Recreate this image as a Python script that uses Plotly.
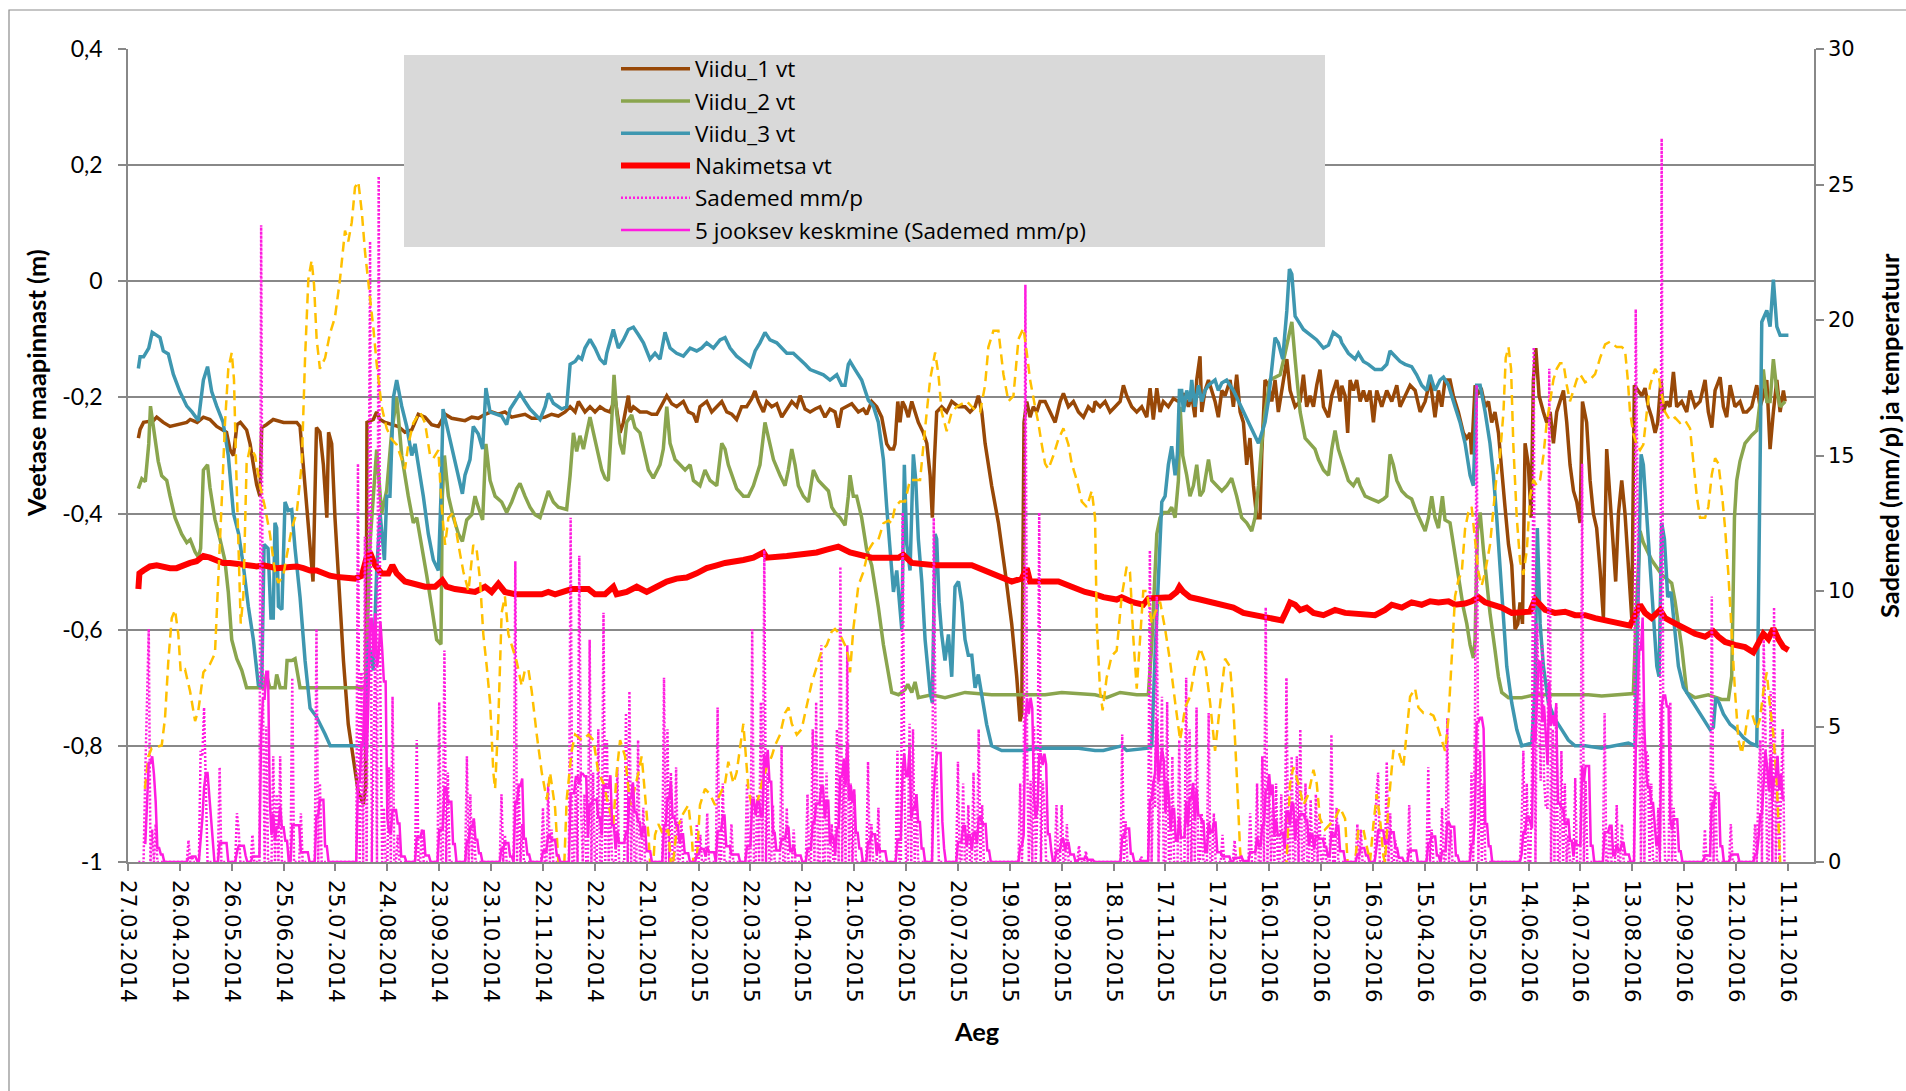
import pandas as pd
import plotly.graph_objects as go

# ---------------- data (day offsets from 27.03.2014) ----------------
START = "2014-03-27"
AXIS_END_DAYS = 975.1
TICK_STEP_DAYS = 30
N_TICKS = 33

# Viidu_1 vt (m)
V1 = [(6, -0.27), (7, -0.255), (9, -0.243), (14.7, -0.24), (16.6, -0.234), (20.4, -0.243), (24.3, -0.25), (28, -0.247),
      (34, -0.243), (36, -0.238), (40, -0.243), (43.6, -0.234), (47.4, -0.238), (51.3, -0.25), (57, -0.26), (59, -0.29),
      (61, -0.30), (63, -0.247), (65, -0.243), (68.6, -0.256), (70.6, -0.28), (72.5, -0.316), (74.4, -0.35), (76.3, -0.37),
      (77.3, -0.252), (80, -0.247), (84, -0.238), (90, -0.243), (97.6, -0.243), (99.5, -0.25), (101.4, -0.316), (103.4, -0.38),
      (105.3, -0.46), (107, -0.517), (109, -0.252), (111, -0.26), (113, -0.316), (115, -0.407), (116, -0.26), (117.8, -0.28),
      (119.7, -0.407), (122.6, -0.553), (124.6, -0.653), (127.4, -0.763), (130.3, -0.826), (133.2, -0.88), (136.1, -0.90),
      (137.5, -0.87), (138.2, -0.243), (141.9, -0.238), (143.8, -0.225), (145.8, -0.238), (148.7, -0.243), (152.5, -0.247),
      (156.4, -0.25), (160.2, -0.26), (164.1, -0.256), (167.9, -0.229), (171.8, -0.234), (175.6, -0.247), (179.5, -0.25),
      (183.4, -0.229), (187.2, -0.236), (191.1, -0.238), (194.9, -0.24), (198.8, -0.234), (202.6, -0.236), (206.5, -0.229),
      (210.3, -0.225), (214.2, -0.229), (218, -0.225), (221.9, -0.234), (225.8, -0.232), (229.6, -0.229), (233.5, -0.236),
      (237.3, -0.236), (241.2, -0.234), (245, -0.229), (248.9, -0.232), (252.8, -0.225), (255.7, -0.216), (258.6, -0.225),
      (260.5, -0.207), (264.3, -0.225), (267.2, -0.216), (270.1, -0.225), (273, -0.216), (275.9, -0.222), (278.8, -0.225),
      (281.7, -0.202), (284.6, -0.261), (286.5, -0.243), (289.4, -0.197), (290.4, -0.225), (292.3, -0.216), (296.1, -0.225),
      (300, -0.225), (302.9, -0.229), (305.8, -0.229), (309.6, -0.207), (311.6, -0.197), (314.5, -0.211), (317.3, -0.216),
      (321.2, -0.207), (324.1, -0.225), (327, -0.229), (328.9, -0.243), (330.8, -0.216), (334.7, -0.207), (337.6, -0.225),
      (340.5, -0.216), (343.4, -0.207), (346.3, -0.225), (349.2, -0.229), (352, -0.238), (354.9, -0.216), (357.8, -0.216),
      (360.7, -0.202), (362.6, -0.189), (364.6, -0.207), (367.5, -0.225), (369.4, -0.207), (372.3, -0.216), (375.2, -0.211),
      (378.1, -0.234), (381, -0.22), (383.9, -0.207), (386.8, -0.216), (388.7, -0.197), (391.6, -0.22), (394.5, -0.225),
      (397.4, -0.22), (400.2, -0.216), (403.1, -0.234), (406, -0.22), (408.9, -0.225), (410.8, -0.252), (412.8, -0.22),
      (415.7, -0.216), (418.6, -0.211), (422.4, -0.225), (425.3, -0.22), (427.2, -0.229), (430.1, -0.207), (433, -0.216),
      (435.9, -0.234), (438.8, -0.28), (440.7, -0.289), (442.7, -0.289), (443.6, -0.28), (445.2, -0.207), (446.5, -0.243),
      (447.9, -0.207), (449.4, -0.216), (451.3, -0.234), (453.3, -0.207), (455.2, -0.225), (457.1, -0.243), (460, -0.261),
      (462, -0.279), (463.9, -0.334), (465.2, -0.407), (466.4, -0.307), (467.7, -0.225), (470.6, -0.216), (473.5, -0.225),
      (476.4, -0.207), (480.3, -0.216), (484.1, -0.216), (487, -0.225), (489.9, -0.216), (491.8, -0.197), (493.8, -0.225),
      (495.7, -0.279), (499.5, -0.352), (503.4, -0.416), (507.2, -0.498), (511.1, -0.59), (514, -0.681), (515.9, -0.758),
      (516.9, -0.745), (518.2, -0.243), (519.8, -0.207), (521.7, -0.234), (523.6, -0.216), (525.6, -0.225), (527.5, -0.207),
      (530.4, -0.207), (533.3, -0.225), (536.2, -0.243), (539.1, -0.207), (541, -0.193), (543.9, -0.216), (546.8, -0.207),
      (549.7, -0.225), (552.6, -0.234), (555.4, -0.216), (558.3, -0.225), (559.3, -0.207), (562.2, -0.216), (565.1, -0.207),
      (568, -0.225), (570.9, -0.216), (573.8, -0.207), (575.7, -0.179), (577.6, -0.197), (580.5, -0.216), (583.4, -0.225),
      (586.3, -0.216), (589.2, -0.234), (591.1, -0.184), (593, -0.238), (595, -0.184), (596.9, -0.225), (598.8, -0.207),
      (601.7, -0.216), (604.6, -0.202), (607.5, -0.207), (610.4, -0.193), (613.3, -0.216), (615.2, -0.197), (617.1, -0.234),
      (618.1, -0.17), (620, -0.129), (621, -0.225), (622.9, -0.188), (624.9, -0.17), (626.8, -0.188), (628.7, -0.207),
      (630.6, -0.234), (632.6, -0.188), (634.5, -0.197), (637.4, -0.17), (639.3, -0.216), (641.2, -0.161), (643.2, -0.225),
      (645.1, -0.243), (647, -0.316), (648.9, -0.27), (650.9, -0.352), (652.8, -0.407), (654.7, -0.407), (655.7, -0.298),
      (657.6, -0.17), (659.5, -0.179), (661.5, -0.207), (663.4, -0.17), (665.3, -0.225), (667.3, -0.188), (670.2, -0.134),
      (672.1, -0.188), (675, -0.216), (677.9, -0.207), (679.8, -0.161), (681.7, -0.216), (683.6, -0.197), (685.6, -0.216),
      (687.5, -0.179), (689.4, -0.152), (691.4, -0.216), (694.3, -0.234), (696.2, -0.197), (699.1, -0.17), (701, -0.207),
      (702, -0.18), (703.9, -0.197), (705.4, -0.261), (706.8, -0.17), (708.7, -0.188), (710.6, -0.17), (712.6, -0.207),
      (714.5, -0.188), (716.4, -0.207), (718.3, -0.188), (720.3, -0.243), (722.2, -0.188), (725.1, -0.216), (728, -0.188),
      (730.9, -0.207), (733.8, -0.179), (735.7, -0.216), (738.6, -0.197), (741.5, -0.179), (744.4, -0.188), (747.3, -0.225),
      (750.2, -0.207), (753.1, -0.17), (755.9, -0.234), (757.9, -0.188), (759.8, -0.216), (761.7, -0.17), (764.6, -0.17),
      (766.5, -0.197), (769.4, -0.225), (772.3, -0.261), (774.3, -0.27), (776.2, -0.261), (777.1, -0.298), (779.1, -0.179),
      (781, -0.193), (782.9, -0.188), (784.9, -0.216), (786.8, -0.207), (788.7, -0.243), (790.6, -0.225), (792.6, -0.261),
      (794.5, -0.334), (796.4, -0.389), (798.4, -0.453), (800.3, -0.489), (802.2, -0.599), (803.8, -0.59), (805.1, -0.553),
      (806.5, -0.59), (808, -0.279), (809.9, -0.316), (811.5, -0.407), (812.8, -0.17), (814.2, -0.115), (816.1, -0.197),
      (818.6, -0.225), (820.5, -0.243), (822.5, -0.225), (824.4, -0.279), (826.3, -0.225), (828.2, -0.207), (830.2, -0.188),
      (832.1, -0.243), (834, -0.316), (836, -0.361), (837.9, -0.38), (839.8, -0.416), (841.2, -0.207), (843.6, -0.243),
      (845.6, -0.343), (847.5, -0.40), (849.4, -0.425), (851.4, -0.498), (853.3, -0.58), (855.2, -0.289), (857.1, -0.37),
      (859.1, -0.45), (860.4, -0.517), (862, -0.40), (863.9, -0.343), (865.8, -0.40), (867.7, -0.498), (869.7, -0.58),
      (871.2, -0.179), (873.5, -0.188), (875.5, -0.197), (877.4, -0.184), (879.3, -0.216), (881.2, -0.234), (883.2, -0.261),
      (884.7, -0.243), (886.6, -0.17), (888, -0.225), (889.9, -0.207), (891.8, -0.216), (893.8, -0.156), (895.7, -0.216),
      (898.6, -0.207), (901.5, -0.225), (903.4, -0.188), (906.3, -0.216), (909.2, -0.207), (912.1, -0.17), (914, -0.225),
      (916, -0.252), (917.9, -0.188), (920.8, -0.165), (922.7, -0.216), (924.6, -0.234), (926.6, -0.179), (929.4, -0.216),
      (932.3, -0.207), (934.3, -0.225), (936.2, -0.225), (939.1, -0.216), (942, -0.179), (943.9, -0.216), (945.8, -0.197),
      (947.8, -0.17), (949.7, -0.289), (951.6, -0.225), (953.6, -0.17), (955.5, -0.225), (957.4, -0.188), (958.4, -0.207)]

# Viidu_2 vt (m)
V2 = [(6, -0.357), (8, -0.34), (10, -0.345), (12, -0.28), (13, -0.215), (14.7, -0.25), (17.5, -0.31), (19.5, -0.335),
      (22.4, -0.343), (24.3, -0.37), (27.2, -0.407), (31, -0.435), (34, -0.45), (36, -0.445), (38.8, -0.466), (40.7, -0.475),
      (42, -0.46), (43.6, -0.325), (46, -0.316), (47.4, -0.355), (50.3, -0.41), (53.2, -0.444), (56, -0.48), (58, -0.535),
      (60, -0.617), (62.9, -0.65), (65.8, -0.67), (68.6, -0.70), (79, -0.70), (80, -0.677), (82, -0.70), (85, -0.70),
      (86, -0.677), (88, -0.70), (91, -0.70), (92, -0.653), (94.7, -0.653), (96.6, -0.65), (99.5, -0.70), (137.5, -0.70),
      (140, -0.45), (143.8, -0.29), (146.7, -0.40), (149.6, -0.36), (152.5, -0.26), (155.4, -0.20), (158.3, -0.30),
      (162.1, -0.37), (165, -0.416), (167, -0.407), (169.9, -0.453), (172.8, -0.507), (175.6, -0.56), (178.5, -0.617),
      (181, -0.625), (181.8, -0.37), (183, -0.30), (185.3, -0.37), (188.2, -0.407), (191.1, -0.435), (193.4, -0.448),
      (195.9, -0.411), (198.8, -0.402), (200.7, -0.37), (202.6, -0.389), (205.1, -0.411), (207, -0.28), (209.4, -0.343),
      (212.3, -0.37), (216.1, -0.38), (219, -0.398), (221.9, -0.38), (224.8, -0.357), (226.7, -0.348), (229.6, -0.37),
      (232.5, -0.389), (235.4, -0.402), (238.3, -0.407), (240.2, -0.389), (243.1, -0.361), (246, -0.38), (248.9, -0.389),
      (253.7, -0.393), (255.7, -0.334), (257.6, -0.261), (259.5, -0.293), (261.4, -0.266), (263.4, -0.289), (265.3, -0.261),
      (267.2, -0.234), (269.2, -0.261), (271.1, -0.289), (274, -0.325), (275.9, -0.339), (277.8, -0.343), (279.7, -0.243),
      (281.1, -0.161), (282.6, -0.225), (284.6, -0.279), (286.5, -0.298), (288.4, -0.243), (291.3, -0.23), (293.2, -0.252),
      (296.1, -0.261), (298.1, -0.289), (301, -0.325), (303.8, -0.339), (307.7, -0.316), (309.6, -0.289), (311.6, -0.216),
      (313.5, -0.279), (316.4, -0.307), (319.3, -0.316), (322.2, -0.325), (325.1, -0.316), (327, -0.343), (330.8, -0.352),
      (333.7, -0.325), (336.6, -0.343), (340.5, -0.352), (343.4, -0.279), (345.3, -0.289), (347.2, -0.316), (349.2, -0.334),
      (352, -0.357), (355.9, -0.37), (358.8, -0.37), (361.7, -0.352), (365.5, -0.316), (368.4, -0.243), (370.4, -0.27),
      (373.3, -0.307), (377.1, -0.334), (380, -0.352), (381.9, -0.325), (383.9, -0.289), (385.8, -0.316), (387.7, -0.352),
      (390.6, -0.37), (393.5, -0.38), (396.4, -0.325), (399.3, -0.343), (402.2, -0.352), (405.1, -0.361), (407, -0.389),
      (408.9, -0.398), (411.8, -0.407), (414.7, -0.42), (416.6, -0.37), (417.6, -0.334), (419.5, -0.37), (421.4, -0.37),
      (424.3, -0.407), (427.2, -0.462), (430.1, -0.489), (434, -0.562), (436.9, -0.626), (439.8, -0.681), (441.7, -0.708),
      (445.6, -0.712), (449.4, -0.703), (451, -0.694), (453.3, -0.708), (455.2, -0.69), (457.1, -0.717), (464.8, -0.712),
      (472.5, -0.717), (484.1, -0.708), (499.5, -0.712), (515, -0.712), (530.4, -0.712), (540, -0.708), (559.3, -0.712),
      (566, -0.717), (573.8, -0.708), (583.4, -0.712), (590.1, -0.712), (592.1, -0.626), (595, -0.435), (596.9, -0.407),
      (598.8, -0.398), (601.7, -0.398), (603.6, -0.389), (605.6, -0.407), (607.5, -0.343), (608.5, -0.216), (610, -0.30),
      (612.3, -0.334), (614.2, -0.37), (616.2, -0.352), (618.1, -0.316), (620, -0.37), (621.9, -0.361), (624.9, -0.307),
      (626.8, -0.343), (629.7, -0.352), (632.6, -0.361), (635.5, -0.352), (638.3, -0.339), (641.2, -0.37), (644.1, -0.407),
      (647, -0.416), (649.9, -0.43), (651.8, -0.407), (653.8, -0.352), (655.7, -0.279), (657.6, -0.225), (660.5, -0.17),
      (663.4, -0.165), (666.3, -0.161), (669.2, -0.124), (671.1, -0.097), (673.1, -0.07), (675, -0.134), (677.9, -0.225),
      (680.8, -0.27), (683.6, -0.279), (686.5, -0.289), (688.5, -0.307), (691.4, -0.325), (694.3, -0.334), (696.2, -0.289),
      (698.1, -0.257), (700, -0.289), (702.9, -0.316), (705.8, -0.343), (708.7, -0.352), (711.2, -0.339), (712.6, -0.352),
      (715.5, -0.37), (719.3, -0.375), (723.2, -0.38), (726.1, -0.375), (728, -0.37), (729.9, -0.298), (731.8, -0.316),
      (733.8, -0.343), (736.7, -0.361), (739.6, -0.37), (742.4, -0.375), (745.3, -0.398), (748.2, -0.416), (750.2, -0.43),
      (752.1, -0.407), (754, -0.37), (755.9, -0.407), (757.9, -0.425), (760.2, -0.37), (761.7, -0.411), (764.6, -0.416),
      (766.5, -0.453), (768.5, -0.489), (770.4, -0.526), (772.3, -0.562), (774.3, -0.59), (776.2, -0.626), (778.1, -0.649),
      (779.1, -0.617), (780.4, -0.43), (782, -0.398), (783.9, -0.462), (785.8, -0.517), (787.7, -0.571), (790.6, -0.635),
      (792.6, -0.681), (794.5, -0.708), (798.4, -0.717), (806.1, -0.717), (813.8, -0.712), (825.3, -0.712), (836.9, -0.712),
      (844.6, -0.712), (852.3, -0.714), (860, -0.712), (870.6, -0.71), (872.6, -0.55), (874.5, -0.43), (876.4, -0.45),
      (881.2, -0.48), (887, -0.505), (892.8, -0.52), (894.7, -0.55), (898.6, -0.63), (901.5, -0.708), (906.3, -0.717),
      (914, -0.712), (921.7, -0.72), (925.6, -0.72), (927.5, -0.68), (929.1, -0.407), (930.4, -0.343), (932.3, -0.31),
      (935.2, -0.279), (939.1, -0.265), (942, -0.257), (943.9, -0.207), (945.8, -0.152), (947.8, -0.207), (949.7, -0.207),
      (951.6, -0.134), (953.6, -0.188), (955.5, -0.216), (958.4, -0.207)]

# Viidu_3 vt (m)
V3 = [(6, -0.15), (7, -0.13), (9, -0.13), (12, -0.115), (14, -0.088), (16.6, -0.093), (18.5, -0.097), (20.4, -0.12),
      (23.3, -0.125), (26.2, -0.16), (30, -0.19), (34, -0.215), (37, -0.225), (40.7, -0.24), (43.6, -0.17), (46, -0.147),
      (48.4, -0.19), (51.3, -0.215), (55, -0.243), (58, -0.30), (61, -0.40), (64, -0.435), (66.7, -0.49), (69.6, -0.56),
      (72.5, -0.617), (75.4, -0.695), (77.3, -0.70), (78.7, -0.453), (81, -0.46), (82.7, -0.58), (84, -0.58), (85, -0.416),
      (86, -0.425), (87, -0.56), (89, -0.565), (90.8, -0.38), (92.7, -0.395), (94.7, -0.393), (96.6, -0.46), (99.5, -0.544),
      (102.4, -0.653), (105.3, -0.735), (109, -0.75), (114, -0.78), (117, -0.80), (137.5, -0.80), (139, -0.62),
      (141.9, -0.67), (143.8, -0.50), (145.8, -0.40), (148.3, -0.48), (149.6, -0.37), (151.5, -0.37), (153.5, -0.20),
      (155.4, -0.17), (158.3, -0.215), (161.2, -0.25), (164.1, -0.30), (166, -0.28), (167.9, -0.316), (170.8, -0.37),
      (173.7, -0.435), (176.6, -0.48), (179.5, -0.498), (181, -0.37), (182.2, -0.22), (185.3, -0.261), (188.2, -0.30),
      (191.1, -0.334), (193.4, -0.366), (194.9, -0.334), (197.8, -0.307), (199.7, -0.25), (202.6, -0.263), (205.1, -0.289),
      (207, -0.184), (209.4, -0.225), (216.1, -0.232), (219, -0.247), (221, -0.22), (223.8, -0.207), (226.7, -0.193),
      (229.6, -0.207), (232.5, -0.22), (235.4, -0.229), (238.3, -0.238), (241.2, -0.216), (243.1, -0.193), (246, -0.21),
      (250.8, -0.22), (253.7, -0.216), (255.7, -0.143), (258.6, -0.138), (260.5, -0.13), (262.4, -0.134), (264.3, -0.115),
      (267.2, -0.10), (270.1, -0.115), (273, -0.134), (275.9, -0.143), (276.9, -0.124), (280.7, -0.083), (283.6, -0.115),
      (286.5, -0.101), (289.4, -0.083), (292.3, -0.079), (295.2, -0.092), (298.1, -0.106), (301.9, -0.134), (304.8, -0.124),
      (307.7, -0.134), (310.6, -0.088), (313.5, -0.115), (317.3, -0.124), (321.2, -0.129), (325.1, -0.115), (328.9, -0.12),
      (331.8, -0.115), (334.7, -0.106), (338.6, -0.115), (342.4, -0.101), (345.3, -0.097), (348.2, -0.115), (352, -0.129),
      (355.9, -0.138), (359.8, -0.147), (362.7, -0.12), (365.5, -0.106), (368.4, -0.088), (371.3, -0.101), (375.2, -0.106),
      (378.1, -0.115), (381, -0.124), (384.8, -0.124), (388.7, -0.134), (391.6, -0.143), (394.5, -0.152), (398.3, -0.156),
      (402.2, -0.161), (406, -0.17), (409.9, -0.161), (412.8, -0.179), (414.7, -0.179), (416.6, -0.143), (417.6, -0.138),
      (420.5, -0.152), (424.3, -0.17), (428.2, -0.205), (431.1, -0.215), (434, -0.243), (436.9, -0.307), (438.8, -0.389),
      (440.7, -0.462), (442.7, -0.535), (444.6, -0.498), (445.9, -0.544), (447.5, -0.599), (449, -0.316), (450.4, -0.453),
      (452.3, -0.498), (454.2, -0.298), (455.6, -0.343), (457.1, -0.444), (459.1, -0.517), (461, -0.617), (463.9, -0.708),
      (465.2, -0.726), (466.8, -0.435), (467.7, -0.444), (469.1, -0.553), (470.6, -0.608), (472.5, -0.653), (474.5, -0.608),
      (476.4, -0.681), (478.3, -0.526), (480.3, -0.517), (482.2, -0.553), (484.1, -0.617), (486, -0.644), (488, -0.644),
      (489.9, -0.70), (491.8, -0.677), (493.8, -0.717), (496.6, -0.763), (499.5, -0.80), (505.3, -0.808), (516.9, -0.808),
      (526.5, -0.804), (536.2, -0.804), (549.7, -0.804), (559.3, -0.808), (564.1, -0.808), (574.7, -0.80), (577.6, -0.808),
      (590.1, -0.804), (592.1, -0.80), (594, -0.644), (595.9, -0.526), (597.9, -0.38), (599.8, -0.37), (601.7, -0.316),
      (603.6, -0.284), (605.6, -0.334), (606.9, -0.298), (608.1, -0.188), (609.4, -0.188), (610.4, -0.225), (612.3, -0.188),
      (614.2, -0.207), (615.2, -0.17), (617.1, -0.216), (619.1, -0.179), (621, -0.207), (622.9, -0.188), (624.9, -0.179),
      (628.7, -0.17), (630.6, -0.188), (632.6, -0.175), (635.4, -0.17), (639.3, -0.188), (642.2, -0.207), (645.1, -0.225),
      (648, -0.243), (650.9, -0.261), (653.8, -0.279), (655.7, -0.261), (657.6, -0.243), (659.5, -0.207), (661.5, -0.152),
      (663.4, -0.097), (665.3, -0.106), (667.8, -0.134), (670.2, -0.051), (671.7, 0.021), (673.1, 0.012), (675, -0.06),
      (676.9, -0.069), (679.8, -0.083), (683.6, -0.092), (687.5, -0.101), (691.4, -0.115), (694.3, -0.11), (697.1, -0.088),
      (701, -0.097), (702, -0.106), (705.8, -0.124), (709.7, -0.134), (711.6, -0.124), (714.5, -0.138), (717.4, -0.143),
      (721.2, -0.152), (725.1, -0.152), (728, -0.143), (729.9, -0.12), (732.8, -0.129), (735.7, -0.138), (738.6, -0.143),
      (742.4, -0.147), (745.3, -0.161), (748.2, -0.179), (751.1, -0.188), (753.1, -0.161), (755.9, -0.188), (758.8, -0.17),
      (760.8, -0.165), (763.7, -0.179), (767.5, -0.216), (770.4, -0.243), (773.3, -0.279), (776.2, -0.334), (778.1, -0.352),
      (780, -0.179), (782, -0.179), (784.9, -0.225), (787.7, -0.279), (789.7, -0.334), (791.6, -0.407), (793.5, -0.498),
      (795.5, -0.59), (797.4, -0.663), (800.3, -0.726), (803.2, -0.772), (806.1, -0.80), (811.9, -0.795), (813.8, -0.70),
      (815.1, -0.425), (816.7, -0.59), (818.6, -0.663), (821.5, -0.726), (825.3, -0.754), (829.2, -0.772), (833, -0.79),
      (836.9, -0.80), (842.7, -0.80), (852.3, -0.804), (860, -0.80), (867.7, -0.795), (871.6, -0.80), (873.5, -0.55),
      (875.1, -0.298), (876.4, -0.316), (878.4, -0.407), (880.3, -0.498), (882.2, -0.59), (884.2, -0.663), (885.5, -0.681),
      (887, -0.416), (888.6, -0.444), (890.5, -0.544), (892.4, -0.535), (894.4, -0.59), (896.7, -0.663), (899.6, -0.699),
      (903.4, -0.717), (907.3, -0.735), (911.1, -0.754), (915, -0.772), (916.9, -0.768), (918.3, -0.717), (920.2, -0.726),
      (922.7, -0.745), (926.6, -0.763), (930.4, -0.772), (934.3, -0.786), (938.1, -0.795), (942, -0.80), (943.3, -0.50),
      (944.9, -0.07), (947.8, -0.05), (949.7, -0.078), (951.6, 0.003), (953.6, -0.078), (955.5, -0.093), (960.3, -0.093)]

# Nakimetsa vt (m)
NAK = [(6, -0.53), (6.6, -0.503), (8.9, -0.498), (12.7, -0.491), (16.6, -0.489), (20.4, -0.492), (24.3, -0.494),
       (28.1, -0.494), (32, -0.489), (35.9, -0.485), (39.7, -0.482), (43.6, -0.473), (47.4, -0.476), (51.3, -0.482),
       (55.1, -0.485), (59, -0.485), (62.9, -0.487), (66.7, -0.489), (70.6, -0.489), (74.4, -0.491), (78.3, -0.489),
       (82.1, -0.492), (86, -0.494), (93.7, -0.492), (97.6, -0.491), (101.4, -0.494), (105.3, -0.498), (109.1, -0.498),
       (113, -0.503), (116.8, -0.507), (120.7, -0.509), (124.6, -0.51), (128.4, -0.512), (131.3, -0.512), (135.2, -0.507),
       (138, -0.476), (140, -0.467), (142.9, -0.489), (146.7, -0.503), (150.6, -0.503), (152.9, -0.489), (155.4, -0.503),
       (160.2, -0.517), (166, -0.521), (171.8, -0.526), (177.6, -0.526), (181.8, -0.515), (184.3, -0.526), (189.1, -0.53),
       (200.7, -0.535), (206.5, -0.526), (210.3, -0.535), (214.2, -0.521), (218, -0.535), (223.8, -0.539), (239.3, -0.539),
       (243.1, -0.535), (247, -0.539), (256.6, -0.53), (266.3, -0.53), (270.1, -0.539), (275.9, -0.539), (280.7, -0.526),
       (282.6, -0.539), (288.4, -0.535), (294.2, -0.526), (300, -0.535), (305.8, -0.526), (311.6, -0.517), (317.3, -0.512),
       (323.1, -0.51), (328.9, -0.503), (334.7, -0.494), (340.5, -0.489), (345.3, -0.485), (355.9, -0.48), (361.7, -0.476),
       (367.5, -0.467), (369.4, -0.476), (381, -0.473), (386.8, -0.471), (398.3, -0.467), (404.1, -0.462), (410.8, -0.457),
       (417.6, -0.467), (422.4, -0.471), (430.1, -0.476), (445.6, -0.476), (448.4, -0.471), (453.3, -0.485), (466.8, -0.489),
       (488, -0.489), (495.7, -0.498), (503.4, -0.507), (511.1, -0.517), (516.9, -0.512), (519.8, -0.494), (521.7, -0.517),
       (538.1, -0.517), (545.8, -0.526), (553.5, -0.535), (559.3, -0.539), (564.1, -0.544), (571.8, -0.548), (574.7, -0.544),
       (581.5, -0.553), (587.2, -0.557), (590.1, -0.546), (602.7, -0.544), (606.5, -0.535), (608.1, -0.526), (610.4, -0.535),
       (614.2, -0.544), (620, -0.548), (625.8, -0.553), (633.5, -0.557), (639.3, -0.562), (645.1, -0.571), (652.8, -0.575),
       (660.5, -0.58), (667.3, -0.584), (670.2, -0.566), (672.1, -0.553), (675, -0.557), (677.9, -0.566), (681.7, -0.562),
       (685.6, -0.571), (691.4, -0.575), (698.1, -0.566), (703.9, -0.571), (715.5, -0.575), (721.2, -0.575), (727, -0.566),
       (730.9, -0.557), (736.7, -0.562), (742.4, -0.553), (748.2, -0.557), (753.1, -0.551), (757.9, -0.553), (763.7, -0.551),
       (767.5, -0.557), (773.3, -0.555), (777.1, -0.551), (781, -0.544), (784.9, -0.553), (790.6, -0.557), (794.5, -0.562),
       (800.3, -0.571), (810.9, -0.569), (813.8, -0.548), (816.7, -0.557), (819.6, -0.566), (825.3, -0.571), (831.1, -0.569),
       (836.9, -0.575), (842.7, -0.575), (848.5, -0.58), (854.3, -0.584), (862, -0.589), (868.7, -0.593), (871.6, -0.575),
       (874.5, -0.557), (877.4, -0.571), (881.2, -0.58), (886.1, -0.566), (889, -0.58), (894.7, -0.589), (900.5, -0.598),
       (906.3, -0.607), (912.1, -0.612), (916.9, -0.603), (919.8, -0.612), (923.7, -0.621), (929.4, -0.626), (935.2, -0.63),
       (940, -0.639), (942.9, -0.621), (945.8, -0.607), (948.7, -0.616), (951.6, -0.598), (954.5, -0.616), (957.4, -0.63),
       (960.3, -0.635)]

# Temperatuur (right axis)
TEMP = [(9.8, 2.7), (11.8, 3.9), (13.7, 4.2), (19.5, 4.3), (21.4, 5.3), (23.3, 7.4), (25.3, 9.0), (27.2, 9.3), (29.1, 8.4),
        (30.5, 7.0), (33, 7.1), (35.9, 6.3), (38.8, 5.2), (40.7, 5.6), (43.6, 7.0), (47.4, 7.3), (50.3, 7.7), (52.3, 10.4),
        (54.2, 13.3), (56.1, 16.2), (58, 18.2), (60, 18.8), (61.3, 17.8), (62.5, 14.7), (63.8, 11.7), (65.2, 8.8), (66.7, 9.8),
        (68.6, 14.7), (70.6, 15.3), (73.5, 15.0), (76.3, 13.9), (79.2, 13.1), (82.1, 12.1), (85, 10.7), (87, 10.3), (89.9, 10.6),
        (91.8, 11.3), (94.7, 12.3), (97.6, 12.9), (100.5, 14.7), (102.4, 18.6), (104.3, 21.5), (106.2, 22.2), (107.6, 21.3),
        (109.1, 19.3), (111, 18.2), (114, 18.6), (116.8, 19.5), (119.7, 20.1), (122.6, 21.5), (125.5, 23.3), (127.4, 22.9),
        (129.4, 23.6), (131.3, 24.9), (133.2, 25.1), (135.2, 24.0), (137.1, 22.5), (140, 20.9), (141.9, 19.7), (143.8, 18.4),
        (146.7, 16.8), (149.6, 16.0), (152.5, 15.6), (155.4, 15.4), (158.3, 14.9), (160.2, 14.5), (162.1, 15.4), (165, 16.2),
        (168.9, 16.6), (171.8, 16.2), (174.7, 15.0), (176.6, 14.9), (179.5, 15.2), (181.4, 13.1), (183.4, 11.7), (185.3, 12.7),
        (188.2, 12.9), (191.1, 11.7), (194, 10.7), (196.9, 10.0), (199.7, 11.7), (201.7, 11.5), (203.6, 10.4), (205.5, 8.4),
        (207.5, 7.2), (209.4, 5.9), (211.3, 3.3), (212.3, 2.7), (214.2, 5.3), (216.1, 9.2), (218, 9.8), (220, 8.4), (221.9, 8.0),
        (224.8, 7.4), (227.7, 6.5), (229.6, 7.1), (231.6, 7.1), (233.5, 6.3), (236.4, 4.7), (239.3, 3.3), (242.2, 2.3),
        (244.1, 3.3), (247, 2.0), (249.9, -1.0), (251.8, -1.0), (253.7, 2.3), (256.6, 4.1), (258.6, 4.7), (262.4, 4.5),
        (266.3, 4.7), (269.2, 4.5), (272, 3.3), (275, 2.9), (277.8, 2.1), (280.7, 1.4), (282.6, 3.3), (284.6, 4.5), (287.5, 3.9),
        (290.4, 2.1), (292.3, 2.5), (295.2, 3.3), (297.1, 3.9), (299, 2.5), (301, 1.0), (302.9, -1.0), (304.8, 1.0), (306.7, 1.4),
        (309.6, 1.0), (312.5, 1.2), (314.5, -0.5), (317.3, 1.2), (321.2, 1.8), (324.1, 2.1), (326, 1.0), (328, -1.0),
        (330.8, 2.1), (333.7, 2.7), (336.6, 2.5), (339.5, 2.1), (342.4, 2.5), (345.3, 2.9), (347.2, 3.7), (350.1, 2.9),
        (352, 3.3), (354, 4.3), (355.9, 5.1), (358.8, 2.7), (360.7, 2.1), (363.6, 2.1), (366.5, 2.9), (369.4, 3.5), (372.3, 3.9),
        (374.2, 4.3), (377.1, 4.7), (380, 5.5), (382, 5.7), (383.9, 5.1), (386.8, 4.7), (389.6, 4.9), (392.5, 5.7), (395.4, 6.6),
        (398.3, 7.2), (401.2, 7.8), (404.1, 8.0), (407, 8.5), (408.9, 8.6), (411.8, 8.4), (414.7, 8.0), (416.6, 7.6),
        (417.6, 7.0), (419.5, 8.6), (422.4, 10.2), (425.3, 10.7), (428.2, 11.5), (431.1, 11.8), (434, 11.9), (436.9, 12.5),
        (439.8, 12.6), (441.7, 12.5), (443.6, 13.1), (446.5, 13.3), (449.4, 13.3), (452.3, 14.1), (455.2, 14.1), (458.1, 14.1),
        (461, 16.0), (463.9, 17.8), (466.8, 18.8), (468.7, 18.0), (470.6, 16.6), (473.5, 15.9), (476.4, 16.6), (479.3, 16.8),
        (485.1, 17.0), (490.9, 16.6), (492.8, 16.6), (495.7, 17.6), (497.6, 19.0), (500.5, 19.6), (503.4, 19.6), (506.3, 18.0),
        (509.2, 17.0), (512.1, 17.2), (515, 19.3), (517.9, 19.7), (519.8, 18.8), (521.7, 17.8), (524.6, 16.8), (526.5, 16.2),
        (528.5, 15.4), (530.4, 14.7), (532.3, 14.5), (535.2, 15.0), (538.1, 15.6), (541, 16.0), (543.9, 15.4), (545.8, 14.7),
        (548.7, 14.1), (551.6, 13.3), (554.5, 13.1), (557.4, 13.7), (559.3, 12.7), (560.3, 8.8), (562.2, 6.3), (563.7, 5.6),
        (566, 6.8), (568.9, 7.6), (571.8, 7.8), (574.7, 9.8), (577.6, 10.9), (579.5, 10.7), (581.5, 8.2), (583.4, 6.4),
        (585.3, 8.2), (587.2, 10.0), (589.2, 10.0), (592.1, 8.8), (594, 9.2), (596.9, 9.6), (599.8, 8.6), (602.7, 7.4),
        (605.6, 5.9), (608.5, 4.5), (611.4, 5.7), (614.2, 6.1), (617.1, 7.2), (620, 7.9), (622.9, 7.4), (625.8, 5.9),
        (628.7, 4.1), (631.6, 5.9), (634.5, 7.5), (637.4, 7.2), (639.3, 5.7), (641.2, 3.3), (643.2, 0.4), (645.1, -1.0),
        (650, -4.0), (660, -6.0), (668, -2.0), (670.2, 0.2), (672.1, 2.9), (674, 3.5), (676.9, 2.9), (679.8, 2.1), (682.7, 2.5),
        (685.6, 3.4), (687.5, 2.9), (689.4, 1.6), (692.3, 1.2), (695.2, 1.4), (698.1, 1.6), (701, 2.0), (703.9, 1.6),
        (705.8, -0.5), (707.7, -1.0), (709.7, 0.0), (711.6, 1.2), (714.5, 1.2), (716.4, 0.6), (718.3, 0.0), (720.3, 1.4),
        (722.2, 2.5), (724.1, 1.6), (726.1, 0.2), (727, 0.0), (729, 2.1), (731.8, 4.1), (734.7, 4.1), (737.6, 3.5), (739.6, 4.9),
        (741.5, 6.1), (744.4, 6.4), (746.3, 5.7), (749.2, 5.5), (752.1, 5.5), (755, 5.4), (756.9, 5.1), (759.8, 4.5),
        (761.7, 4.1), (763.7, 5.3), (765.6, 7.8), (767.5, 9.8), (769.4, 10.4), (771.4, 10.7), (773.3, 12.3), (775.2, 12.9),
        (777.1, 13.1), (779.1, 11.9), (781, 10.7), (782.9, 10.2), (784.9, 10.7), (787.7, 11.7), (789.7, 13.1), (791.6, 14.3),
        (793.5, 15.0), (795.5, 16.6), (796.8, 18.6), (798.4, 19.0), (799.9, 18.2), (801.2, 15.4), (803.2, 12.7), (805.1, 11.1),
        (807, 10.6), (809, 11.5), (810.9, 13.5), (812.8, 14.1), (814.7, 13.9), (816.7, 14.1), (818.6, 15.0), (820.5, 16.2),
        (822.5, 17.0), (824.4, 17.8), (826.3, 18.2), (828.2, 18.4), (830.2, 18.4), (832.1, 17.6), (834, 17.0), (836, 17.4),
        (837.9, 17.8), (839.8, 18.0), (842.7, 17.7), (845.6, 17.8), (848.5, 18.0), (851.4, 18.6), (854.3, 19.1), (857.1, 19.2),
        (859.1, 19.1), (861, 19.0), (863.9, 19.0), (865.8, 18.9), (867.4, 17.8), (868.7, 16.6), (870.6, 15.8), (872.6, 15.4),
        (874.5, 15.2), (876.4, 15.4), (878.4, 16.6), (880.3, 17.6), (883.2, 18.2), (885.1, 18.0), (886.6, 17.4), (889, 16.6),
        (891.8, 16.3), (894.7, 16.4), (897.6, 16.2), (900.5, 16.3), (903.4, 16.0), (905.3, 14.9), (907.3, 13.5), (909.2, 12.7),
        (912.1, 12.7), (914, 13.1), (916, 14.3), (917.9, 14.9), (919.8, 14.7), (921.7, 13.7), (923.7, 12.3), (925.6, 10.6),
        (927.5, 8.4), (929.4, 6.3), (931.4, 4.5), (933.3, 4.0), (935.2, 4.7), (937.2, 5.6), (939.1, 5.5), (942, 4.9),
        (943.9, 5.3), (945.8, 6.3), (947.8, 7.0), (949.7, 5.7), (951.6, 4.7), (953.6, 2.9), (955.5, 0.0), (957.4, -1.0)]

# Sademed mm/p (daily precipitation; days not listed had none)
PRECIP_FIRST_DAY = 6
PRECIP_LAST_DAY = 958
PRECIP = [(10, 3.3), (11, 6.4), (12, 8.6), (14, 1.2), (16, 1.4), (35, 0.8), (37, 0.2), (42, 4.1), (43, 3.9), (44, 5.7),
          (45, 2.7), (53, 3.5), (63, 1.8), (64, 1.2), (72, 1.0), (77, 23.5), (78, 6.6), (80, 5.0), (84, 3.9), (86, 2.5),
          (88, 3.9), (95, 6.8), (100, 1.8), (109, 8.6), (111, 2.9), (133, 14.7), (135, 7.0), (137, 12.0), (139, 10.0),
          (140, 22.9), (142, 5.0), (143, 8.0), (145, 25.3), (146, 6.0), (148, 2.0), (151, 3.5), (153, 6.1), (156, 1.0),
          (167, 4.5), (170, 1.2), (180, 5.9), (183, 7.8), (185, 3.3), (196, 3.9), (198, 2.5), (200, 1.6), (216, 2.5),
          (218, 1.0), (224, 11.1), (226, 2.9), (228, 1.4), (240, 2.0), (243, 2.9), (245, 1.2), (256, 12.7), (259, 3.0),
          (261, 11.3), (262, 2.0), (264, 2.5), (267, 8.2), (269, 3.3), (272, 4.9), (275, 9.2), (277, 4.5), (279, 2.3),
          (283, 3.5), (288, 5.5), (290, 6.3), (292, 2.9), (295, 4.5), (298, 2.0), (310, 6.8), (312, 4.9), (314, 3.3),
          (317, 3.5), (320, 1.6), (329, 1.4), (331, 1.0), (335, 1.8), (341, 5.7), (344, 2.9), (349, 1.4), (358, 2.9),
          (361, 8.6), (364, 2.5), (366, 5.9), (368, 11.5), (370, 3.3), (373, 2.1), (378, 4.3), (381, 2.0), (385, 1.2),
          (393, 2.5), (396, 4.9), (398, 5.9), (401, 8.0), (404, 3.3), (407, 1.4), (410, 4.9), (412, 10.9), (414, 3.3),
          (416, 8.0), (418, 2.9), (420, 2.5), (428, 3.7), (430, 1.4), (434, 2.0), (445, 4.1), (448, 12.9), (449, 2.9),
          (452, 5.1), (454, 4.9), (456, 2.5), (466, 12.7), (467, 4.9), (468, 2.5), (480, 3.7), (483, 2.9), (486, 2.1),
          (489, 3.3), (492, 4.9), (494, 2.1), (516, 2.9), (518, 2.0), (519, 21.3), (520, 4.0), (522, 3.0), (524, 5.0),
          (526, 2.0), (527, 12.9), (529, 3.0), (530, 2.1), (537, 2.1), (540, 2.1), (543, 1.4), (550, 0.6), (554, 0.4),
          (575, 4.7), (577, 1.5), (586, 0.2), (591, 11.5), (593, 3.0), (594, 2.0), (595, 9.8), (597, 3.0), (598, 6.1),
          (601, 5.9), (604, 3.9), (608, 4.5), (612, 6.8), (614, 4.9), (616, 2.9), (618, 5.7), (621, 1.8), (625, 5.5),
          (628, 1.8), (633, 1.0), (640, 0.8), (644, 0.2), (649, 1.8), (653, 2.9), (656, 3.9), (658, 9.4), (660, 2.9),
          (662, 2.0), (664, 2.9), (667, 2.5), (670, 6.8), (673, 3.9), (676, 3.9), (678, 4.9), (681, 2.9), (684, 2.3),
          (687, 2.5), (689, 1.8), (692, 1.0), (696, 4.7), (699, 2.0), (711, 1.4), (713, 1.2), (722, 2.5), (723, 3.3),
          (728, 3.7), (730, 1.8), (733, 0.8), (741, 2.1), (752, 3.5), (754, 1.2), (760, 2.0), (763, 5.3), (765, 1.2),
          (777, 3.3), (779, 4.9), (780, 17.6), (782, 4.1), (784, 2.9), (806, 1.4), (807, 4.1), (809, 2.9), (812, 3.3),
          (813, 19.0), (815, 8.8), (816, 6.0), (817, 3.0), (818, 8.0), (819, 3.0), (820, 2.0), (821, 2.0), (822, 18.2),
          (824, 4.9), (826, 5.9), (829, 4.1), (831, 2.9), (833, 1.0), (837, 3.1), (841, 14.7), (843, 3.0), (854, 5.5),
          (857, 1.2), (861, 2.1), (864, 1.4), (872, 20.4), (873, 12.0), (874, 6.8), (876, 5.9), (878, 4.1), (879, 3.9),
          (881, 2.9), (885, 2.0), (887, 26.7), (888, 2.0), (892, 5.9), (894, 2.0), (912, 1.2), (916, 9.8), (918, 2.9),
          (927, 1.4), (941, 1.4), (943, 2.9), (944, 4.5), (946, 8.2), (947, 4.9), (950, 6.3), (952, 9.4), (954, 3.9),
          (956, 2.9), (957, 4.9)]
MA_PERIOD = 5

NAMES = ["Viidu_1 vt", "Viidu_2 vt", "Viidu_3 vt", "Nakimetsa vt", "Sademed mm/p",
         "5 jooksev keskmine (Sademed mm/p)"]
Y_TICKS = [-1, -0.8, -0.6, -0.4, -0.2, 0, 0.2, 0.4]
Y_TICK_TEXT = ["-1", "-0,8", "-0,6", "-0,4", "-0,2", "0", "0,2", "0,4"]
Y2_TICKS = [0, 5, 10, 15, 20, 25, 30]
X_TITLE = "Aeg"
Y_TITLE = "Veetase maapinnast (m)"
Y2_TITLE = "Sademed (mm/p) ja temperatuur"

# ---------------- helpers ----------------
base = pd.Timestamp(START)


def to_dates(days):
    return [base + pd.Timedelta(days=float(d)) for d in days]


def split(pairs):
    d = [p[0] for p in pairs]
    v = [p[1] for p in pairs]
    return to_dates(d), v


# daily precipitation series and its 5-point moving average
days_all = list(range(PRECIP_FIRST_DAY, PRECIP_LAST_DAY + 1))
p_map = dict(PRECIP)
precip_series = pd.Series([p_map.get(d, 0.0) for d in days_all], index=to_dates(days_all))
ma_series = precip_series.rolling(MA_PERIOD).mean()

# ---------------- figure ----------------
BROWN = "#984807"
OLIVE = "#8AA54E"
TEAL = "#3E97B0"
RED = "#FF0000"
MAGENTA = "#FF1CE0"
ORANGE = "#FFC000"
GRID = "#888888"

fig = go.Figure()
x, y = split(V1)
fig.add_trace(go.Scatter(x=x, y=y, name=NAMES[0], mode="lines", line=dict(color=BROWN, width=3.5)))
x, y = split(V2)
fig.add_trace(go.Scatter(x=x, y=y, name=NAMES[1], mode="lines", line=dict(color=OLIVE, width=3.5)))
x, y = split(V3)
fig.add_trace(go.Scatter(x=x, y=y, name=NAMES[2], mode="lines", line=dict(color=TEAL, width=3.5)))
x, y = split(NAK)
fig.add_trace(go.Scatter(x=x, y=y, name=NAMES[3], mode="lines", line=dict(color=RED, width=6)))
fig.add_trace(go.Scatter(x=precip_series.index, y=precip_series.values, name=NAMES[4], mode="lines", yaxis="y2",
                         line=dict(color=MAGENTA, width=2.5, dash="2px,2px")))
x, y = split(TEMP)
fig.add_trace(go.Scatter(x=x, y=y, name="Temperatuur", mode="lines", yaxis="y2", showlegend=False,
                         line=dict(color=ORANGE, width=2.5, dash="10px,6px")))
fig.add_trace(go.Scatter(x=ma_series.index, y=ma_series.values, name=NAMES[5], mode="lines", yaxis="y2",
                         line=dict(color=MAGENTA, width=2.5)))

tick_dates = [base + pd.Timedelta(days=TICK_STEP_DAYS * k) for k in range(N_TICKS)]
tick_text = [d.strftime("%d.%m.%Y") for d in tick_dates]

W, H = 1906, 1091
L, R, T, B = 128, 92, 49, 229
pw, ph = W - L - R, H - T - B


def px_x(px):
    return (px - L) / pw


def px_y(py):
    return (H - B - py) / ph


TITLE_FONT = dict(family="Lato", size=25.4, color="black", weight="bold")

fig.update_layout(
    width=W, height=H, autosize=False,
    margin=dict(l=L, r=R, t=T, b=B, pad=0),
    paper_bgcolor="white", plot_bgcolor="white",
    font=dict(family="Lato", color="black"),
    showlegend=True,
    legend=dict(x=px_x(616), y=px_y(47.5), xanchor="left", yanchor="top", bgcolor="rgba(0,0,0,0)",
                font=dict(family="Open Sans", size=22.5, color="black"), itemwidth=69, tracegroupgap=0),
    xaxis=dict(type="date", range=[base, base + pd.Timedelta(days=AXIS_END_DAYS)],
               tickmode="array", tickvals=tick_dates, ticktext=tick_text, tickangle=90,
               tickfont=dict(family="DejaVu Sans", size=21.4, color="black"), ticklabelstandoff=5,
               ticks="outside", ticklen=7, tickcolor=GRID, tickwidth=1.5,
               showline=True, linecolor=GRID, linewidth=1.5, showgrid=False, zeroline=False,
               automargin=False),
    yaxis=dict(range=[-1, 0.4], tickmode="array", tickvals=Y_TICKS, ticktext=Y_TICK_TEXT,
               tickfont=dict(family="Lato", size=23, color="black"), ticklabelstandoff=11,
               ticks="outside", ticklen=8, tickcolor=GRID, tickwidth=1.5,
               showline=True, linecolor=GRID, linewidth=1.5,
               showgrid=True, gridcolor=GRID, gridwidth=1.5, zeroline=False, automargin=False),
    yaxis2=dict(range=[0, 30], overlaying="y", side="right", tickmode="array", tickvals=Y2_TICKS,
                tickfont=dict(family="DejaVu Sans", size=21, color="black"),
                ticks="outside", ticklen=8, tickcolor=GRID, tickwidth=1.5,
                showline=True, linecolor=GRID, linewidth=1.5, showgrid=False, zeroline=False, automargin=False),
    annotations=[
        dict(text=X_TITLE, xref="paper", yref="paper", x=px_x(976), y=px_y(1031), xanchor="center", yanchor="middle",
             showarrow=False, font=TITLE_FONT),
        dict(text=Y_TITLE, xref="paper", yref="paper", x=px_x(36), y=px_y(383), xanchor="center", yanchor="middle",
             textangle=-90, showarrow=False, font=TITLE_FONT),
        dict(text=Y2_TITLE, xref="paper", yref="paper", x=px_x(1889), y=px_y(435), xanchor="center", yanchor="middle",
             textangle=-90, showarrow=False, font=TITLE_FONT),
    ],
    shapes=[
        dict(type="rect", xref="paper", yref="paper", x0=px_x(404), x1=px_x(1325), y0=px_y(247), y1=px_y(55),
             fillcolor="#D9D9D9", line=dict(width=0), layer="above"),
        dict(type="rect", xref="paper", yref="paper", x0=px_x(9), x1=px_x(1930), y0=px_y(1110), y1=px_y(10),
             fillcolor="rgba(0,0,0,0)", line=dict(color="#8C8C8C", width=1.2), layer="above"),
    ],
)

fig.write_html("out.html", config={"displayModeBar": False},
               post_script="document.body.style.margin='0';document.body.style.overflow='hidden';")
